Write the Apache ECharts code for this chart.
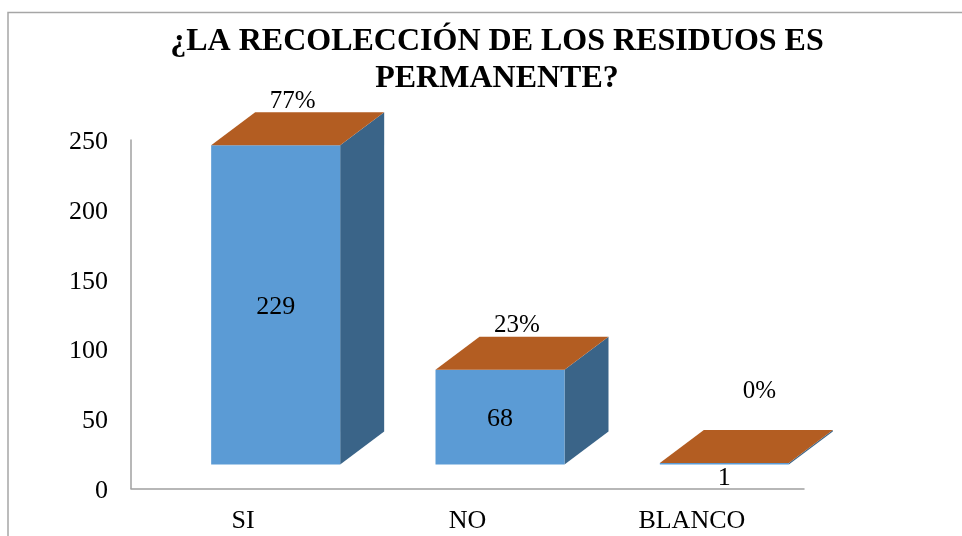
<!DOCTYPE html>
<html><head><meta charset="utf-8">
<style>html,body{margin:0;padding:0;background:#fff}#c{width:962px;height:536px}</style>
<script src="https://cdn.jsdelivr.net/npm/echarts@6/dist/echarts.min.js"></script>
</head><body><div id="c"></div>
<script>
const titleText = '¿LA RECOLECCIÓN DE LOS RESIDUOS ES\nPERMANENTE?';
const categories = ['SI', 'NO', 'BLANCO'];
const counts = [229, 68, 1];
const percents = ['77%', '23%', '0%'];
const yTicks = [0, 50, 100, 150, 200, 250];

const FONT = '"Liberation Serif","Times New Roman",serif';
const FRONT = '#5B9BD5', SIDE = '#3A6488', TOP = '#B35D22', AXIS = '#A0A0A0';
const BAR_W = 129, DX = 44, DY = 33, LIFT = 24, SHIFT = 32.5;

const chart = echarts.init(document.getElementById('c'), null, {renderer: 'canvas'});
function renderBar(params, api) {
  const i = api.value(0), v = api.value(1);
  const p = api.coord([i, v]), base = api.coord([i, 0]);
  const x0 = p[0] + SHIFT - BAR_W / 2, x1 = x0 + BAR_W;
  const yT = p[1] - LIFT, yB = base[1] - LIFT;
  const small = yB - yT < 10;
  const poly = (pts, fill) => ({type: 'polygon', shape: {points: pts}, style: {fill: fill}});
  const txt = (t, x, y, size) => ({type: 'text', style: {text: t, x: x, y: y, align: 'center', verticalAlign: 'middle',
    font: size + 'px ' + FONT, fill: '#000'}, z2: 10});
  return {type: 'group', children: [
    poly([[x1, yT], [x1 + DX, yT - DY], [x1 + DX, yB - DY], [x1, yB]], SIDE),
    poly([[x0, yT], [x1, yT], [x1, yB], [x0, yB]], FRONT),
    poly([[x0, yT], [x0 + DX, yT - DY], [x1 + DX, yT - DY], [x1, yT]], TOP),
    txt(String(v), x0 + BAR_W / 2, small ? yB + 13.5 : (yT + yB) / 2 + 2, 26),
    txt(percents[i], x0 + BAR_W / 2 + (small ? 35 : 17), yT - DY - (small ? 39 : 11), 25)
  ]};
}
chart.setOption({
  animation: false,
  backgroundColor: '#fff',
  title: {text: titleText, left: 492, top: 18, textAlign: 'center',
    textStyle: {fontFamily: FONT, fontSize: 32, fontWeight: 'bold', color: '#000', lineHeight: 37}},
  grid: {left: 131, right: 158, top: 140, bottom: 47.5, containLabel: false},
  xAxis: {type: 'category', data: categories, axisTick: {show: false},
    axisLine: {lineStyle: {color: AXIS, width: 1.5}},
    axisLabel: {fontFamily: FONT, fontSize: 26, color: '#000', margin: 20}},
  yAxis: {type: 'value', min: 0, max: yTicks[yTicks.length - 1], interval: yTicks[1] - yTicks[0],
    axisLine: {show: true, lineStyle: {color: AXIS, width: 1.5}}, axisTick: {show: false}, splitLine: {show: false},
    axisLabel: {margin: 23, formatter: v => '{t|' + v + '}',
      rich: {t: {fontFamily: FONT, fontSize: 26, color: '#000', padding: [5, 0, 0, 0]}}}},
  graphic: [{type: 'polyline', shape: {points: [[8, 536], [8, 12.5], [962, 12.5]]}, style: {stroke: '#A6A6A6', lineWidth: 1.5, fill: null}}],
  series: [{type: 'custom', renderItem: renderBar, clip: false,
    encode: {x: 0, y: 1}, data: counts.map((v, i) => [i, v])}]
});
</script></body></html>
